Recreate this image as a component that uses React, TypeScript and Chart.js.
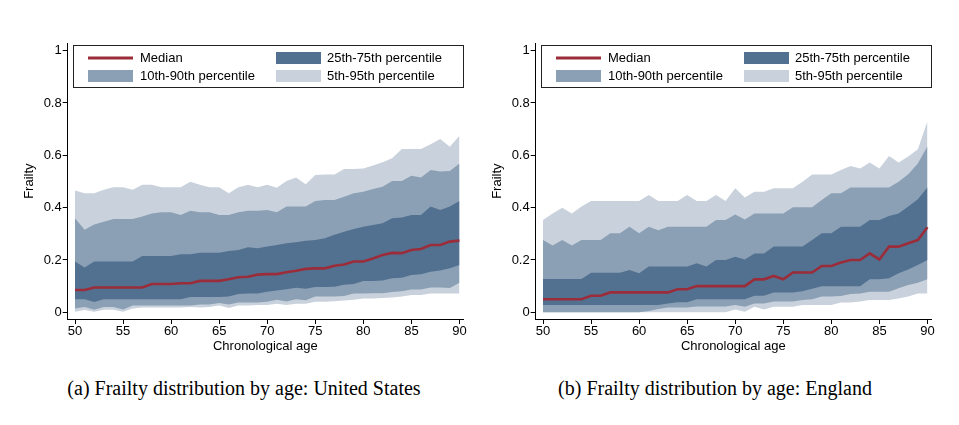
import React, { useEffect, useRef } from 'react';
import { Chart, registerables } from 'chart.js';

Chart.register(...registerables);

const ages = [50, 51, 52, 53, 54, 55, 56, 57, 58, 59, 60, 61, 62, 63, 64, 65, 66, 67, 68, 69, 70, 71, 72, 73, 74, 75, 76, 77, 78, 79, 80, 81, 82, 83, 84, 85, 86, 87, 88, 89, 90];

// United States
const usP95 = [0.465, 0.455, 0.455, 0.468, 0.478, 0.478, 0.468, 0.487, 0.487, 0.478, 0.478, 0.478, 0.499, 0.487, 0.478, 0.478, 0.455, 0.478, 0.487, 0.478, 0.487, 0.476, 0.502, 0.515, 0.489, 0.525, 0.527, 0.527, 0.548, 0.548, 0.55, 0.561, 0.573, 0.589, 0.624, 0.624, 0.624, 0.642, 0.662, 0.633, 0.675];
const usP90 = [0.359, 0.315, 0.336, 0.346, 0.357, 0.357, 0.357, 0.366, 0.378, 0.382, 0.382, 0.372, 0.388, 0.382, 0.382, 0.372, 0.372, 0.382, 0.388, 0.388, 0.391, 0.382, 0.404, 0.404, 0.404, 0.425, 0.429, 0.429, 0.442, 0.455, 0.461, 0.471, 0.48, 0.502, 0.502, 0.522, 0.515, 0.544, 0.538, 0.54, 0.569];
const usP75 = [0.194, 0.171, 0.194, 0.194, 0.194, 0.194, 0.194, 0.215, 0.215, 0.215, 0.215, 0.222, 0.222, 0.228, 0.228, 0.228, 0.234, 0.238, 0.249, 0.245, 0.251, 0.257, 0.264, 0.268, 0.273, 0.276, 0.283, 0.296, 0.308, 0.318, 0.327, 0.334, 0.34, 0.359, 0.362, 0.372, 0.372, 0.404, 0.391, 0.404, 0.425];
const usP50 = [0.085, 0.085, 0.095, 0.095, 0.095, 0.095, 0.095, 0.095, 0.108, 0.108, 0.108, 0.111, 0.111, 0.12, 0.12, 0.12, 0.126, 0.134, 0.136, 0.144, 0.146, 0.146, 0.153, 0.159, 0.166, 0.168, 0.168, 0.178, 0.183, 0.194, 0.194, 0.206, 0.219, 0.227, 0.226, 0.238, 0.242, 0.257, 0.257, 0.27, 0.274];
const usP25 = [0.05, 0.05, 0.039, 0.05, 0.05, 0.05, 0.05, 0.05, 0.05, 0.05, 0.05, 0.05, 0.058, 0.058, 0.058, 0.058, 0.06, 0.07, 0.072, 0.072, 0.079, 0.083, 0.088, 0.094, 0.09, 0.097, 0.097, 0.098, 0.105, 0.108, 0.12, 0.12, 0.122, 0.13, 0.132, 0.143, 0.145, 0.155, 0.16, 0.168, 0.181];
const usP10 = [0.015, 0.02, 0.01, 0.02, 0.02, 0.011, 0.026, 0.026, 0.026, 0.026, 0.026, 0.026, 0.026, 0.03, 0.03, 0.036, 0.03, 0.037, 0.037, 0.037, 0.04, 0.048, 0.041, 0.05, 0.046, 0.06, 0.06, 0.06, 0.062, 0.072, 0.072, 0.073, 0.073, 0.078, 0.08, 0.087, 0.087, 0.095, 0.095, 0.093, 0.113];
const usP5 = [0.002, 0.009, 0.002, 0.01, 0.01, 0.002, 0.015, 0.018, 0.018, 0.018, 0.018, 0.018, 0.02, 0.018, 0.02, 0.026, 0.016, 0.026, 0.026, 0.028, 0.028, 0.033, 0.028, 0.033, 0.033, 0.04, 0.04, 0.042, 0.045, 0.048, 0.053, 0.053, 0.055, 0.057, 0.06, 0.066, 0.066, 0.072, 0.072, 0.072, 0.072];

// England
const enP95 = [0.353, 0.378, 0.4, 0.378, 0.404, 0.425, 0.425, 0.425, 0.425, 0.425, 0.425, 0.448, 0.425, 0.425, 0.425, 0.448, 0.425, 0.425, 0.448, 0.425, 0.474, 0.439, 0.461, 0.461, 0.474, 0.474, 0.474, 0.499, 0.527, 0.527, 0.527, 0.544, 0.559, 0.55, 0.572, 0.55, 0.597, 0.572, 0.595, 0.623, 0.73];
const enP90 = [0.276, 0.255, 0.276, 0.255, 0.276, 0.276, 0.276, 0.302, 0.302, 0.327, 0.302, 0.327, 0.314, 0.327, 0.327, 0.327, 0.327, 0.327, 0.353, 0.353, 0.374, 0.355, 0.378, 0.378, 0.378, 0.378, 0.401, 0.401, 0.401, 0.429, 0.455, 0.455, 0.477, 0.477, 0.477, 0.477, 0.477, 0.499, 0.528, 0.569, 0.635];
const enP75 = [0.127, 0.127, 0.127, 0.127, 0.127, 0.151, 0.151, 0.151, 0.151, 0.162, 0.149, 0.175, 0.175, 0.175, 0.175, 0.175, 0.187, 0.175, 0.2, 0.2, 0.212, 0.202, 0.225, 0.225, 0.251, 0.251, 0.251, 0.251, 0.276, 0.302, 0.302, 0.327, 0.327, 0.327, 0.353, 0.353, 0.368, 0.378, 0.404, 0.432, 0.478];
const enP50 = [0.05, 0.05, 0.05, 0.05, 0.05, 0.063, 0.063, 0.076, 0.076, 0.076, 0.076, 0.076, 0.076, 0.076, 0.088, 0.088, 0.1, 0.1, 0.1, 0.1, 0.1, 0.1, 0.126, 0.126, 0.139, 0.126, 0.152, 0.152, 0.152, 0.177, 0.177, 0.19, 0.2, 0.2, 0.225, 0.202, 0.251, 0.251, 0.264, 0.276, 0.325];
const enP25 = [0.028, 0.028, 0.028, 0.028, 0.028, 0.028, 0.028, 0.028, 0.028, 0.028, 0.028, 0.028, 0.028, 0.034, 0.038, 0.038, 0.05, 0.05, 0.05, 0.05, 0.05, 0.05, 0.063, 0.063, 0.076, 0.076, 0.076, 0.08, 0.09, 0.1, 0.1, 0.1, 0.1, 0.1, 0.126, 0.126, 0.13, 0.149, 0.164, 0.181, 0.2];
const enP10 = [0, 0, 0, 0, 0, 0, 0, 0, 0, 0, 0, 0.005, 0.013, 0.018, 0.018, 0.018, 0.022, 0.022, 0.022, 0.022, 0.028, 0.021, 0.034, 0.034, 0.041, 0.041, 0.041, 0.047, 0.05, 0.06, 0.06, 0.062, 0.07, 0.072, 0.079, 0.079, 0.079, 0.092, 0.104, 0.113, 0.126];
const enP5 = [0, 0, 0, 0, 0, 0, 0, 0, 0, 0, 0, 0, 0, 0, 0, 0, 0, 0, 0, 0, 0.011, 0.002, 0.021, 0.011, 0.021, 0.021, 0.021, 0.028, 0.028, 0.028, 0.028, 0.037, 0.037, 0.041, 0.047, 0.047, 0.047, 0.053, 0.06, 0.072, 0.072];

const xTicks = [50, 55, 60, 65, 70, 75, 80, 85, 90];
const yTicks = [0, 0.2, 0.4, 0.6, 0.8, 1];
const legendLabels = ['Median', '25th-75th percentile', '10th-90th percentile', '5th-95th percentile'];
const xTitle = 'Chronological age';
const yTitle = 'Frailty';
const captions = ['(a) Frailty distribution by age: United States', '(b) Frailty distribution by age: England'];

const COLORS = {
  median: '#9b2d3a',
  dark: '#527191',
  mid: '#8ba0b5',
  light: '#c9d2dc',
  axis: '#000000',
};

const FONT = '"Liberation Sans", Arial, Helvetica, sans-serif';

type PanelProps = {
  p5: number[]; p10: number[]; p25: number[]; p50: number[]; p75: number[]; p90: number[]; p95: number[];
  left: number;
};

function Panel({ p5, p10, p25, p50, p75, p90, p95, left }: PanelProps) {
  const ref = useRef<HTMLCanvasElement>(null);

  useEffect(() => {
    if (!ref.current) return;
    const pts = (arr: number[]) => ages.map((a, i) => ({ x: a, y: arr[i] }));
    const band = (arr: number[], color: string, fill: any) => ({
      data: pts(arr),
      borderWidth: 0,
      borderColor: 'rgba(0,0,0,0)',
      pointRadius: 0,
      backgroundColor: color,
      fill,
      tension: 0,
    });

    const legendPlugin = {
      id: 'stataLegend',
      afterDraw(chart: any) {
        const { ctx, chartArea } = chart;
        const l = chartArea.left;
        const t = chartArea.top;
        const bx = l + 5;
        const by = t + 1.7;
        const bw = chartArea.right - bx - 0.3;
        const bh = 42.3;
        ctx.save();
        ctx.fillStyle = '#ffffff';
        ctx.fillRect(bx, by, bw, bh);
        ctx.strokeStyle = '#222';
        ctx.lineWidth = 1;
        ctx.strokeRect(Math.round(bx) + 0.5, Math.round(by) + 0.5, Math.round(bw), Math.round(bh));
        const row1 = t + 14.7;
        const row2 = t + 32.7;
        const c1 = l + 20.3;
        const c2 = l + 208.3;
        const sw = 45;
        const sh = 12;
        ctx.strokeStyle = COLORS.median;
        ctx.lineWidth = 3;
        ctx.beginPath();
        ctx.moveTo(c1, row1);
        ctx.lineTo(c1 + sw, row1);
        ctx.stroke();
        ctx.fillStyle = COLORS.dark;
        ctx.fillRect(c2, row1 - sh / 2, sw, sh);
        ctx.fillStyle = COLORS.mid;
        ctx.fillRect(c1, row2 - sh / 2, sw, sh);
        ctx.fillStyle = COLORS.light;
        ctx.fillRect(c2, row2 - sh / 2, sw, sh);
        ctx.fillStyle = '#000';
        ctx.font = `13px ${FONT}`;
        ctx.textBaseline = 'middle';
        ctx.textAlign = 'left';
        ctx.fillText(legendLabels[0], c1 + sw + 7, row1);
        ctx.fillText(legendLabels[1], c2 + sw + 6, row1);
        ctx.fillText(legendLabels[2], c1 + sw + 7, row2);
        ctx.fillText(legendLabels[3], c2 + sw + 6, row2);
        ctx.restore();
      },
    };

    const chart = new Chart(ref.current, {
      type: 'line',
      data: {
        datasets: [
          { data: pts(p50), borderColor: COLORS.median, borderWidth: 2.6, pointRadius: 0, fill: false, tension: 0 } as any,
          band(p75, COLORS.dark, '+1'),
          band(p25, COLORS.dark, false),
          band(p90, COLORS.mid, '+1'),
          band(p10, COLORS.mid, false),
          band(p95, COLORS.light, '+1'),
          band(p5, COLORS.light, false),
        ],
      },
      options: {
        animation: false,
        responsive: false,
        maintainAspectRatio: false,
        layout: { padding: { top: 43.3, left: 0, right: 5, bottom: 0 } },
        plugins: { legend: { display: false }, tooltip: { enabled: false } },
        scales: {
          x: {
            type: 'linear',
            min: 49.24,
            max: 90.37,
            afterBuildTicks: (s: any) => { s.ticks = xTicks.map((v) => ({ value: v })); },
            afterFit: (s: any) => { s.height = 41; },
            grid: { drawOnChartArea: false, drawTicks: true, tickLength: 5, color: COLORS.axis, lineWidth: 1 },
            border: { display: true, color: COLORS.axis, width: 1 },
            ticks: { font: { size: 13, family: FONT }, color: '#000', padding: 0, maxRotation: 0, autoSkip: false, callback: (v: any) => String(v) },
            title: { display: true, text: xTitle, font: { size: 13, family: FONT }, color: '#000', padding: { top: 0, bottom: 5.5 } },
          },
          y: {
            type: 'linear',
            min: -0.0256,
            max: 1.028,
            afterBuildTicks: (s: any) => { s.ticks = yTicks.map((v) => ({ value: v })); },
            afterFit: (s: any) => { s.width = 67.7; },
            grid: { drawOnChartArea: false, drawTicks: true, tickLength: 5, color: COLORS.axis, lineWidth: 1 },
            border: { display: true, color: COLORS.axis, width: 1 },
            ticks: { font: { size: 13, family: FONT }, color: '#000', padding: 1, autoSkip: false, callback: (v: any) => String(v) },
            title: { display: true, text: yTitle, font: { size: 13, family: FONT }, color: '#000', padding: { top: 22, bottom: 0 } },
          },
        },
      },
      plugins: [legendPlugin],
    } as any);
    return () => chart.destroy();
  }, []);

  return (
    <canvas
      ref={ref}
      width={468}
      height={360}
      style={{ position: 'absolute', left, top: 0, width: 468, height: 360 }}
    />
  );
}

const captionStyle: React.CSSProperties = {
  position: 'absolute',
  top: 378,
  width: 480,
  textAlign: 'center',
  fontFamily: '"Liberation Serif", "Times New Roman", serif',
  fontSize: 20,
  lineHeight: '20px',
  color: '#000',
  whiteSpace: 'nowrap',
};

export default function App() {
  return (
    <div style={{ position: 'absolute', left: 0, top: 0, width: 959, height: 425, background: '#fff', overflow: 'hidden' }}>
      <Panel p5={usP5} p10={usP10} p25={usP25} p50={usP50} p75={usP75} p90={usP90} p95={usP95} left={0} />
      <Panel p5={enP5} p10={enP10} p25={enP25} p50={enP50} p75={enP75} p90={enP90} p95={enP95} left={468.3} />
      <div style={{ ...captionStyle, left: 244 - 240 }}>{captions[0]}</div>
      <div style={{ ...captionStyle, left: 715 - 240 }}>{captions[1]}</div>
    </div>
  );
}
